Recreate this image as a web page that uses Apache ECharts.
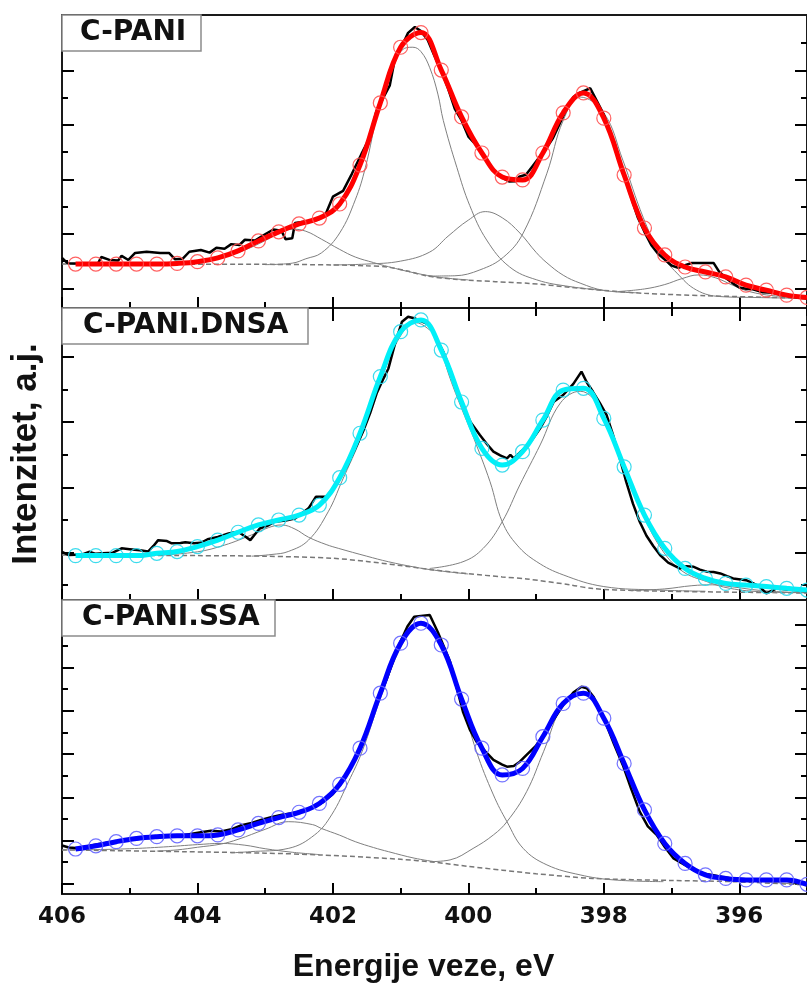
<!DOCTYPE html>
<html>
<head>
<meta charset="utf-8">
<title>N1s XPS</title>
<script src="https://cdn.jsdelivr.net/npm/echarts@6/dist/echarts.min.js"></script>
<style>
  html, body { margin: 0; padding: 0; background: #fff; }
  #chart { width: 807px; height: 985px; }
</style>
</head>
<body>
<div id="chart"></div>
<script>
// binding energy of the fit markers (eV), shared by all three panels
const markerE = [405.8, 405.5, 405.2, 404.9, 404.6, 404.3, 404.0, 403.7, 403.4, 403.1, 402.8, 402.5, 402.2,
  401.9, 401.6, 401.3, 401.0, 400.7, 400.4, 400.1, 399.8, 399.5, 399.2, 398.9, 398.6, 398.3, 398.0, 397.7,
  397.4, 397.1, 396.8, 396.5, 396.2, 395.9, 395.6, 395.3, 395.0];

const xMajorTicks = [406, 404, 402, 400, 398, 396];
const xMinorTicks = [405, 403, 401, 399, 397, 395];

// ---- C-PANI ----
const cpaniFit = [15.0, 15.0, 15.0, 15.0, 15.0, 15.2, 15.8, 17.1, 19.5, 22.9, 26.0, 28.7, 30.7, 35.5, 48.8, 70.0,
  89.0, 94.0, 81.2, 65.2, 52.9, 44.7, 43.7, 52.9, 66.6, 73.4, 64.8, 45.4, 27.3, 18.1, 14.0, 12.3, 10.6, 7.8,
  6.1, 4.4, 3.6];
const cpaniExp = [[406.0, 17.1], [405.92, 15.3], [405.6, 15.0], [405.47, 15.2], [405.42, 17.4], [405.3, 16.4],
  [405.17, 16.2], [405.12, 17.8], [405.02, 16.4], [404.92, 18.8], [404.75, 19.2], [404.55, 18.8], [404.42, 18.8],
  [404.33, 16.6], [404.22, 16.8], [404.12, 19.2], [403.95, 19.8], [403.82, 18.9], [403.72, 20.6], [403.6, 20.2],
  [403.5, 21.8], [403.38, 21.5], [403.3, 23.3], [403.15, 23.0], [403.02, 24.9], [402.88, 26.8], [402.76, 26.4],
  [402.7, 23.5], [402.6, 23.8], [402.56, 29.0], [402.4, 29.5], [402.22, 30.1], [402.1, 32.4], [402.0, 38.0],
  [401.85, 40.0], [401.72, 45.8], [401.58, 52.5], [401.46, 58.0], [401.36, 67.0], [401.25, 72.0], [401.16, 76.0],
  [401.08, 85.7], [400.98, 89.5], [400.89, 93.9], [400.79, 95.9], [400.7, 94.5], [400.6, 91.5], [400.5, 86.0],
  [400.4, 81.0], [400.3, 75.0], [400.2, 68.0], [400.1, 64.0], [400.0, 58.5], [399.9, 56.0], [399.8, 53.0],
  [399.7, 49.0], [399.6, 46.5], [399.5, 44.5], [399.4, 43.2], [399.3, 43.3], [399.25, 44.8], [399.15, 45.5],
  [399.05, 48.5], [398.95, 51.5], [398.85, 54.5], [398.75, 58.0], [398.65, 63.0], [398.55, 68.0], [398.45, 72.0],
  [398.35, 73.5], [398.2, 75.0], [398.1, 70.5], [398.0, 66.0], [397.9, 60.0], [397.8, 52.0], [397.7, 45.0],
  [397.6, 38.0], [397.5, 31.0], [397.4, 26.0], [397.3, 21.5], [397.2, 18.5], [397.1, 16.5], [397.0, 14.5],
  [396.9, 13.7], [396.8, 14.6], [396.7, 15.4], [396.5, 15.4], [396.38, 15.4], [396.3, 12.5], [396.2, 10.2],
  [396.1, 8.5], [396.0, 7.0], [395.9, 6.6], [395.8, 6.4], [395.65, 5.4], [395.5, 5.2], [395.4, 4.6], [395.3, 4.2],
  [395.15, 3.6], [395.0, 3.2]];
const cpaniBg = [[406, 15.0], [403, 14.9], [402, 14.7], [401.5, 14.4], [401.2, 14.0], [400.9, 12.6], [400.6, 10.9],
  [400.2, 9.8], [399.6, 9.0], [399.1, 8.4], [398.5, 7.1], [398.0, 6.0], [397.4, 5.0], [396.5, 4.2], [395.5, 3.6],
  [395.0, 3.3]];
const cpaniPeak1 = [[405.0, 15.0], [404.5, 15.2], [404.0, 15.9], [403.6, 17.5], [403.3, 19.8], [403.0, 23.0],
  [402.8, 25.5], [402.6, 26.9], [402.4, 26.2], [402.17, 23.5], [401.9, 20.0], [401.67, 17.4], [401.4, 15.5],
  [401.18, 14.1], [400.8, 12.0], [400.4, 10.4], [400.0, 9.6]];
const cpaniPeak2 = [[403.0, 14.8], [402.6, 15.3], [402.4, 16.8], [402.17, 18.8], [401.9, 25.6], [401.67, 36.9],
  [401.52, 48.0], [401.33, 67.6], [401.18, 78.8], [400.98, 88.0], [400.82, 89.0], [400.7, 87.5], [400.57, 82.0],
  [400.45, 73.0], [400.37, 64.0], [400.17, 48.0], [399.98, 35.0], [399.73, 23.2], [399.39, 14.0], [398.99, 9.6],
  [398.5, 7.3], [398.0, 6.0]];
const cpaniPeak3 = [[402.0, 14.7], [401.5, 15.0], [401.0, 16.0], [400.57, 19.1], [400.3, 24.5], [400.0, 30.0],
  [399.75, 32.9], [399.5, 30.8], [399.24, 25.6], [399.0, 19.0], [398.84, 15.4], [398.6, 11.2], [398.35, 8.5],
  [398.0, 6.0], [397.5, 5.2]];
const cpaniPeak4 = [[400.6, 10.9], [400.2, 11.0], [399.83, 13.0], [399.48, 17.4], [399.19, 25.6], [398.84, 46.0],
  [398.6, 64.0], [398.35, 72.0], [398.0, 66.6], [397.72, 50.5], [397.42, 31.0], [397.17, 18.8], [396.92, 11.9],
  [396.63, 6.1], [396.28, 3.9], [395.8, 3.6], [395.0, 3.3]];
const cpaniPeak5 = [[397.8, 5.6], [397.4, 6.5], [397.1, 8.0], [396.85, 10.0], [396.6, 11.3], [396.35, 10.3],
  [396.1, 7.8], [395.85, 5.6], [395.5, 4.2], [395.0, 3.4]];
const cpaniYMajor = [6.7, 25.3, 43.9, 62.5, 81.1];
const cpaniYMinor = [16.0, 34.6, 53.2, 71.8, 90.4];

// ---- C-PANI.DNSA ----
const dnsaFit = [15.2, 15.2, 15.2, 15.2, 16.0, 16.6, 18.3, 20.5, 23.2, 25.7, 27.4, 29.1, 32.5, 41.9, 57.1, 76.5,
  91.9, 95.9, 85.6, 67.8, 51.9, 46.2, 50.8, 61.6, 71.9, 72.5, 62.2, 45.6, 29.1, 17.7, 10.8, 7.4, 5.7, 5.1, 4.6,
  4.0, 3.4];
const dnsaExp = [[406.0, 16.5], [405.9, 15.4], [405.7, 15.6], [405.6, 16.5], [405.5, 15.8], [405.4, 16.0],
  [405.25, 16.2], [405.12, 17.7], [405.0, 17.4], [404.85, 17.0], [404.73, 16.6], [404.65, 18.5], [404.58, 20.5],
  [404.45, 20.2], [404.38, 19.4], [404.25, 19.5], [404.18, 19.8], [404.05, 19.4], [403.95, 19.6], [403.85, 20.8],
  [403.7, 21.6], [403.54, 22.8], [403.4, 23.4], [403.3, 21.8], [403.22, 20.5], [403.15, 22.5], [403.08, 24.5],
  [402.95, 25.6], [402.86, 26.8], [402.7, 27.2], [402.56, 27.9], [402.45, 29.8], [402.36, 31.4], [402.25, 35.4],
  [402.1, 35.4], [402.0, 38.0], [401.92, 40.5], [401.8, 45.5], [401.67, 51.9], [401.55, 58.0], [401.45, 64.0],
  [401.35, 71.0], [401.25, 76.0], [401.18, 79.3], [401.08, 88.0], [400.98, 95.3], [400.89, 97.0], [400.8, 96.5],
  [400.7, 95.5], [400.57, 94.2], [400.47, 89.5], [400.37, 85.0], [400.27, 79.0], [400.17, 72.5], [400.07, 66.0],
  [399.97, 61.0], [399.83, 56.5], [399.73, 53.5], [399.63, 50.8], [399.53, 49.5], [399.43, 48.5], [399.38, 49.7],
  [399.33, 48.5], [399.24, 50.5], [399.14, 52.5], [399.04, 55.5], [398.94, 58.8], [398.84, 63.0], [398.74, 67.9],
  [398.6, 70.2], [398.45, 74.0], [398.33, 78.2], [398.25, 74.5], [398.16, 71.3], [398.06, 67.5], [397.96, 63.4],
  [397.87, 57.0], [397.77, 49.0], [397.67, 40.5], [397.57, 33.0], [397.47, 26.8], [397.37, 22.0], [397.27, 18.5],
  [397.17, 15.4], [397.05, 12.8], [396.88, 10.8], [396.78, 11.6], [396.68, 11.4], [396.58, 10.4], [396.48, 9.7],
  [396.38, 9.6], [396.28, 9.1], [396.18, 8.2], [396.09, 7.4], [395.9, 6.8], [395.8, 5.8], [395.7, 4.6],
  [395.6, 2.3], [395.5, 3.4], [395.45, 4.0], [395.3, 3.6], [395.2, 3.4], [395.0, 3.0]];
const dnsaBg = [[406, 15.4], [404, 15.2], [403, 15.0], [402, 14.3], [401.5, 13.2], [401.0, 11.8], [400.55, 10.4],
  [400.0, 9.0], [399.5, 7.9], [399.14, 7.2], [398.5, 5.2], [398.16, 3.9], [397.5, 3.2], [396.5, 2.8], [395.0, 2.4]];
const dnsaPeak1 = [[404.6, 15.3], [404.0, 16.5], [403.6, 18.8], [403.2, 22.3], [402.95, 24.8], [402.76, 25.7],
  [402.56, 24.3], [402.36, 21.5], [402.1, 19.0], [401.92, 17.7], [401.5, 15.0], [401.18, 13.1], [400.8, 11.3],
  [400.5, 10.2], [400.0, 8.9]];
const dnsaPeak2 = [[403.2, 15.0], [402.9, 15.6], [402.66, 16.6], [402.36, 20.5], [402.07, 30.2], [401.87, 40.5],
  [401.57, 56.5], [401.28, 75.9], [401.0, 90.5], [400.78, 95.0], [400.6, 93.0], [400.47, 89.6], [400.27, 75.9],
  [400.1, 65.6], [399.92, 55.4], [399.68, 40.5], [399.5, 26.8], [399.28, 18.8], [398.99, 13.1], [398.6, 8.6],
  [398.0, 4.6], [397.17, 3.4], [396.5, 3.0]];
const dnsaPeak3 = [[400.57, 10.8], [400.08, 13.1], [399.78, 17.7], [399.5, 26.8], [399.24, 39.4], [398.94, 53.1],
  [398.64, 67.5], [398.35, 71.5], [398.0, 63.4], [397.72, 46.2], [397.42, 29.1], [397.12, 16.5], [396.83, 9.7],
  [396.48, 6.3], [396.14, 4.0], [395.65, 2.8], [395.0, 2.5]];
const dnsaPeak4 = [[397.6, 3.2], [397.1, 3.8], [396.7, 4.9], [396.4, 5.2], [396.1, 4.5], [395.7, 3.3],
  [395.2, 2.6], [395.0, 2.5]];
const dnsaYMajor = [16.3, 38.6, 60.9, 83.2];
const dnsaYMinor = [5.2, 27.5, 49.8, 72.1, 94.4];

// ---- C-PANI.SSA ----
const ssaFit = [15.3, 16.4, 17.8, 18.9, 19.5, 19.8, 19.8, 20.1, 21.8, 24.0, 26.0, 27.8, 30.8, 37.3, 49.6, 68.3,
  85.3, 92.1, 84.7, 66.3, 49.6, 40.5, 42.7, 53.5, 64.8, 68.3, 59.8, 44.4, 28.6, 17.2, 10.4, 6.5, 5.3, 4.8, 4.8,
  4.8, 3.3];
const ssaExp = [[406.0, 16.5], [405.9, 15.8], [405.75, 15.6], [405.6, 16.3], [405.45, 17.0], [405.3, 17.5],
  [405.15, 18.2], [405.0, 18.6], [404.85, 18.8], [404.7, 19.3], [404.55, 19.6], [404.4, 19.7], [404.25, 19.8],
  [404.1, 20.4], [403.95, 21.0], [403.8, 21.5], [403.65, 21.3], [403.5, 22.0], [403.35, 23.4], [403.2, 24.2],
  [403.05, 25.3], [402.9, 26.2], [402.75, 27.0], [402.6, 27.5], [402.45, 28.2], [402.3, 29.4], [402.15, 31.2],
  [402.0, 34.0], [401.9, 37.0], [401.8, 40.5], [401.7, 45.0], [401.6, 49.5], [401.5, 55.0], [401.4, 62.0],
  [401.3, 68.0], [401.2, 73.5], [401.1, 80.0], [401.0, 86.0], [400.9, 91.0], [400.8, 94.3], [400.7, 94.6],
  [400.57, 94.9], [400.45, 89.0], [400.35, 83.5], [400.27, 79.0], [400.17, 70.0], [400.08, 62.0], [399.98, 56.0],
  [399.88, 51.8], [399.75, 48.5], [399.63, 45.6], [399.5, 44.0], [399.43, 43.3], [399.33, 43.5], [399.24, 45.0],
  [399.14, 47.3], [399.0, 50.5], [398.89, 54.1], [398.75, 59.0], [398.6, 64.3], [398.45, 68.5], [398.33, 70.5],
  [398.25, 70.0], [398.15, 67.0], [398.05, 62.0], [397.96, 57.5], [397.85, 51.0], [397.72, 43.9], [397.6, 36.0],
  [397.47, 28.0], [397.35, 23.0], [397.22, 20.1], [397.1, 16.0], [396.97, 12.1], [396.85, 10.5], [396.7, 8.5],
  [396.55, 7.0], [396.4, 6.5], [396.25, 5.8], [396.1, 5.2], [395.9, 5.0], [395.7, 4.9], [395.5, 5.0],
  [395.35, 4.8], [395.2, 4.0], [395.0, 3.2]];
const ssaBg = [[406, 15.0], [404.2, 14.4], [403.0, 13.9], [402.2, 13.3], [401.5, 12.5], [401.0, 11.8], [400.5, 10.8],
  [400.0, 9.4], [399.5, 8.1], [399.0, 6.9], [398.16, 5.3], [397.0, 4.6], [396.1, 4.2], [395.0, 3.1]];
const ssaPeak1 = [[406.0, 15.0], [405.5, 15.1], [405.0, 15.4], [404.5, 16.0], [404.0, 16.8], [403.65, 17.2],
  [403.3, 16.6], [403.0, 15.4], [402.6, 14.2], [402.2, 13.4]];
const ssaPeak2 = [[404.6, 14.6], [404.3, 15.0], [404.0, 15.9], [403.65, 17.0], [403.4, 18.6], [403.0, 22.0],
  [402.66, 24.6], [402.3, 23.6], [402.17, 22.3], [401.9, 20.0], [401.67, 17.8], [401.4, 15.8], [401.18, 14.4],
  [400.8, 12.2], [400.5, 11.0]];
const ssaPeak3 = [[403.5, 14.0], [403.22, 14.4], [402.66, 15.5], [402.27, 20.1], [402.02, 26.9], [401.77, 38.2],
  [401.57, 48.4], [401.28, 67.7], [400.98, 84.7], [400.73, 92.0], [400.55, 90.5], [400.4, 84.7], [400.1, 65.4],
  [399.88, 48.4], [399.63, 33.7], [399.43, 24.6], [399.19, 15.5], [398.84, 9.9], [398.35, 6.5], [397.86, 4.8],
  [397.12, 4.2]];
const ssaPeak4 = [[400.57, 11.0], [400.27, 11.6], [399.93, 15.5], [399.63, 20.1], [399.43, 24.6], [399.14, 34.8],
  [398.89, 48.4], [398.6, 64.3], [398.3, 68.3], [398.0, 59.8], [397.72, 44.4], [397.42, 28.6], [397.12, 17.2],
  [396.83, 10.4], [396.5, 6.5], [396.1, 4.9], [395.65, 4.2], [395.0, 3.1]];
const ssaYMajor = [3.5, 18.2, 32.9, 47.6, 62.3, 77.0, 91.7];
const ssaYMinor = [10.85, 25.55, 40.25, 54.95, 69.65, 84.35];

const panels = [
  { name: 'C-PANI', fit: cpaniFit, exp: cpaniExp, bg: cpaniBg,
    peaks: [cpaniPeak1, cpaniPeak2, cpaniPeak3, cpaniPeak4, cpaniPeak5], yMajor: cpaniYMajor, yMinor: cpaniYMinor,
    color: '#ff0000', marker: 'rgba(255,80,80,0.9)', top: 15, height: 293, pad: [2, 15, 2, 18] },
  { name: 'C-PANI.DNSA', fit: dnsaFit, exp: dnsaExp, bg: dnsaBg,
    peaks: [dnsaPeak1, dnsaPeak2, dnsaPeak3, dnsaPeak4], yMajor: dnsaYMajor, yMinor: dnsaYMinor,
    color: '#00f0f8', marker: 'rgba(40,215,235,0.9)', top: 308, height: 292, pad: [2, 20, 2, 21] },
  { name: 'C-PANI.SSA', fit: ssaFit, exp: ssaExp, bg: ssaBg,
    peaks: [ssaPeak1, ssaPeak2, ssaPeak3, ssaPeak4], yMajor: ssaYMajor, yMinor: ssaYMinor,
    color: '#0000ff', marker: 'rgba(100,100,255,0.9)', top: 600, height: 294, pad: [2, 16, 2, 20] }
];

const tickLine = { color: '#000', width: 2 };
const xAxes = [];
const yAxes = [];
const series = [];

panels.forEach((p, i) => {
  const last = i === panels.length - 1;
  xAxes.push({
    gridIndex: i, type: 'value', min: 395, max: 406, inverse: true, position: 'bottom',
    axisLine: { show: false }, splitLine: { show: false },
    axisTick: { inside: true, length: 11, customValues: xMajorTicks, lineStyle: tickLine },
    axisLabel: { show: last, customValues: xMajorTicks, margin: 12, fontFamily: 'DejaVu Sans',
      fontWeight: 'bold', fontSize: 23, color: '#111' },
    name: last ? 'Energije veze, eV' : '', nameLocation: 'middle', nameGap: 57,
    nameTextStyle: { fontFamily: 'Liberation Sans', fontWeight: 'bold', fontSize: 32, color: '#111',
      padding: [0, 22, 0, 0] }
  });
  xAxes.push({
    gridIndex: i, type: 'value', min: 395, max: 406, inverse: true, position: 'bottom',
    axisLine: { show: false }, splitLine: { show: false }, axisLabel: { show: false },
    axisTick: { inside: true, length: 6, customValues: xMinorTicks, lineStyle: tickLine }
  });

  [['left', p.yMajor, 12], ['left', p.yMinor, 6], ['right', p.yMajor, 12], ['right', p.yMinor, 6]]
    .forEach(([pos, ticks, len], k) => {
      yAxes.push({
        gridIndex: i, type: 'value', min: 0, max: 100, position: pos,
        axisLine: { show: false }, splitLine: { show: false }, axisLabel: { show: false },
        axisTick: { inside: true, length: len, customValues: ticks, lineStyle: tickLine },
        name: i === 1 && k === 0 ? 'Intenzitet, a.j.' : '', nameLocation: 'middle', nameGap: 18,
        nameTextStyle: { fontFamily: 'Liberation Sans', fontWeight: 'bold', fontSize: 35, color: '#111' }
      });
    });

  const axes = { xAxisIndex: i * 2, yAxisIndex: i * 4 };
  series.push({ type: 'line', ...axes, data: p.bg, smooth: 0.3, showSymbol: false,
    lineStyle: { color: '#777', width: 1.5, type: [5, 3] } });
  p.peaks.forEach(pk => series.push({ type: 'line', ...axes, data: pk, smooth: 0.4, showSymbol: false,
    lineStyle: { color: '#7f7f7f', width: 1 } }));
  series.push({ type: 'line', ...axes, data: p.exp, showSymbol: false,
    lineStyle: { color: '#000', width: 2.5 } });
  series.push({ type: 'line', ...axes, data: markerE.map((e, k) => [e, p.fit[k]]), smooth: 0.4,
    symbol: 'circle', symbolSize: 14, showSymbol: true,
    itemStyle: { color: 'rgba(255,255,255,0)', borderColor: p.marker, borderWidth: 1.2 },
    lineStyle: { color: p.color, width: 5 } });
});

// ticks along the top frame of the first panel
xAxes.push({
  gridIndex: 0, type: 'value', min: 395, max: 406, inverse: true, position: 'top',
  axisLine: { show: false }, splitLine: { show: false }, axisLabel: { show: false },
  axisTick: { inside: true, length: 13, customValues: xMajorTicks, lineStyle: tickLine }
}, {
  gridIndex: 0, type: 'value', min: 395, max: 406, inverse: true, position: 'top',
  axisLine: { show: false }, splitLine: { show: false }, axisLabel: { show: false },
  axisTick: { inside: true, length: 8, customValues: xMinorTicks, lineStyle: tickLine }
});

const chart = echarts.init(document.getElementById('chart'));
chart.setOption({
  animation: false,
  backgroundColor: '#fff',
  title: panels.map(p => ({
    text: p.name, left: 62, top: p.top, padding: p.pad,
    backgroundColor: '#fff', borderColor: '#8c8c8c', borderWidth: 1.5,
    textStyle: { fontFamily: 'DejaVu Sans', fontWeight: 'bold', fontSize: 28, lineHeight: 32, color: '#111' }
  })),
  grid: panels.map(p => ({
    left: 62, right: 0, top: p.top, height: p.height,
    show: true, borderColor: '#1a1a1a', borderWidth: 2, backgroundColor: 'transparent'
  })),
  xAxis: xAxes,
  yAxis: yAxes,
  series: series
});
</script>
</body>
</html>
